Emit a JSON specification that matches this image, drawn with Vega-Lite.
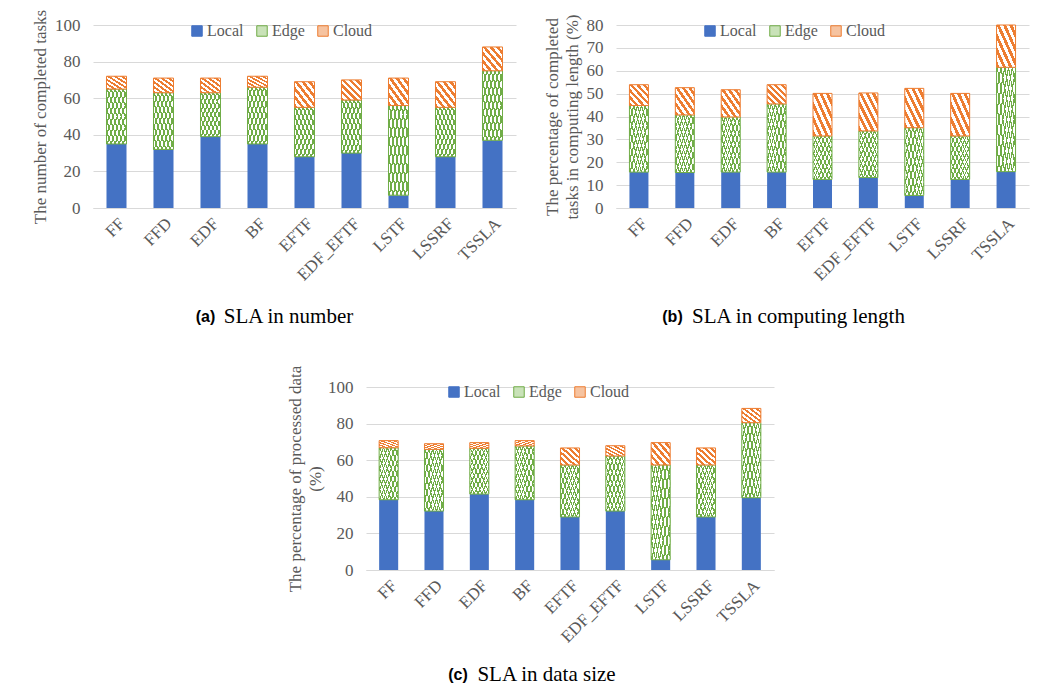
{
  "$schema": "https://vega.github.io/schema/vega-lite/v6.json",
  "background": "white",
  "padding": {"left": 31, "top": 9, "right": 0, "bottom": 0},
  "datasets": {
    "a": [
      {"method": "FF", "series": "Local", "value": 35}, {"method": "FF", "series": "Edge", "value": 30}, {"method": "FF", "series": "Cloud", "value": 7},
      {"method": "FFD", "series": "Local", "value": 32}, {"method": "FFD", "series": "Edge", "value": 31}, {"method": "FFD", "series": "Cloud", "value": 8},
      {"method": "EDF", "series": "Local", "value": 39}, {"method": "EDF", "series": "Edge", "value": 24}, {"method": "EDF", "series": "Cloud", "value": 8},
      {"method": "BF", "series": "Local", "value": 35}, {"method": "BF", "series": "Edge", "value": 31}, {"method": "BF", "series": "Cloud", "value": 6},
      {"method": "EFTF", "series": "Local", "value": 28}, {"method": "EFTF", "series": "Edge", "value": 27}, {"method": "EFTF", "series": "Cloud", "value": 14},
      {"method": "EDF_EFTF", "series": "Local", "value": 30}, {"method": "EDF_EFTF", "series": "Edge", "value": 29}, {"method": "EDF_EFTF", "series": "Cloud", "value": 11},
      {"method": "LSTF", "series": "Local", "value": 7}, {"method": "LSTF", "series": "Edge", "value": 49}, {"method": "LSTF", "series": "Cloud", "value": 15},
      {"method": "LSSRF", "series": "Local", "value": 28}, {"method": "LSSRF", "series": "Edge", "value": 27}, {"method": "LSSRF", "series": "Cloud", "value": 14},
      {"method": "TSSLA", "series": "Local", "value": 37}, {"method": "TSSLA", "series": "Edge", "value": 38}, {"method": "TSSLA", "series": "Cloud", "value": 13}
    ],
    "b": [
      {"method": "FF", "series": "Local", "value": 15.7}, {"method": "FF", "series": "Edge", "value": 29.1}, {"method": "FF", "series": "Cloud", "value": 9.1},
      {"method": "FFD", "series": "Local", "value": 15.5}, {"method": "FFD", "series": "Edge", "value": 25.2}, {"method": "FFD", "series": "Cloud", "value": 11.9},
      {"method": "EDF", "series": "Local", "value": 15.7}, {"method": "EDF", "series": "Edge", "value": 24.1}, {"method": "EDF", "series": "Cloud", "value": 11.9},
      {"method": "BF", "series": "Local", "value": 15.7}, {"method": "BF", "series": "Edge", "value": 29.8}, {"method": "BF", "series": "Cloud", "value": 8.4},
      {"method": "EFTF", "series": "Local", "value": 12.5}, {"method": "EFTF", "series": "Edge", "value": 19.0}, {"method": "EFTF", "series": "Cloud", "value": 18.6},
      {"method": "EDF_EFTF", "series": "Local", "value": 13.3}, {"method": "EDF_EFTF", "series": "Edge", "value": 20.4}, {"method": "EDF_EFTF", "series": "Cloud", "value": 16.6},
      {"method": "LSTF", "series": "Local", "value": 5.5}, {"method": "LSTF", "series": "Edge", "value": 29.6}, {"method": "LSTF", "series": "Cloud", "value": 17.2},
      {"method": "LSSRF", "series": "Local", "value": 12.5}, {"method": "LSSRF", "series": "Edge", "value": 19.0}, {"method": "LSSRF", "series": "Cloud", "value": 18.6},
      {"method": "TSSLA", "series": "Local", "value": 15.9}, {"method": "TSSLA", "series": "Edge", "value": 45.6}, {"method": "TSSLA", "series": "Cloud", "value": 18.5}
    ],
    "c": [
      {"method": "FF", "series": "Local", "value": 38.4}, {"method": "FF", "series": "Edge", "value": 28.4}, {"method": "FF", "series": "Cloud", "value": 3.9},
      {"method": "FFD", "series": "Local", "value": 32.2}, {"method": "FFD", "series": "Edge", "value": 33.7}, {"method": "FFD", "series": "Cloud", "value": 3.1},
      {"method": "EDF", "series": "Local", "value": 41.5}, {"method": "EDF", "series": "Edge", "value": 25.0}, {"method": "EDF", "series": "Cloud", "value": 3.1},
      {"method": "BF", "series": "Local", "value": 38.4}, {"method": "BF", "series": "Edge", "value": 29.4}, {"method": "BF", "series": "Cloud", "value": 2.9},
      {"method": "EFTF", "series": "Local", "value": 29.0}, {"method": "EFTF", "series": "Edge", "value": 28.4}, {"method": "EFTF", "series": "Cloud", "value": 9.3},
      {"method": "EDF_EFTF", "series": "Local", "value": 32.2}, {"method": "EDF_EFTF", "series": "Edge", "value": 30.1}, {"method": "EDF_EFTF", "series": "Cloud", "value": 5.6},
      {"method": "LSTF", "series": "Local", "value": 5.6}, {"method": "LSTF", "series": "Edge", "value": 51.8}, {"method": "LSTF", "series": "Cloud", "value": 12.2},
      {"method": "LSSRF", "series": "Local", "value": 29.0}, {"method": "LSSRF", "series": "Edge", "value": 28.4}, {"method": "LSSRF", "series": "Cloud", "value": 9.3},
      {"method": "TSSLA", "series": "Local", "value": 39.5}, {"method": "TSSLA", "series": "Edge", "value": 41.0}, {"method": "TSSLA", "series": "Cloud", "value": 7.8}
    ]
  },
  "spacing": 39,
  "center": true,
  "resolve": {"scale": {"color": "independent"}, "legend": {"color": "independent"}},
  "vconcat": [
    {
      "spacing": 27,
      "resolve": {"scale": {"color": "independent"}, "legend": {"color": "independent"}},
      "hconcat": [
        {
          "width": 423, "height": 183,
          "data": {"name": "a"},
          "transform": [{"stack": "value", "groupby": ["method"], "sort": [{"field": "series", "order": "descending"}], "as": ["v0", "v1"]}],
          "title": {"text": "(a)", "orient": "bottom", "frame": "group", "anchor": "middle", "dx": -99, "dy": -21, "font": "Liberation Sans", "fontWeight": "bold", "fontSize": 16, "color": "black"},
          "encoding": {
            "x": {"field": "method", "type": "nominal", "sort": ["FF", "FFD", "EDF", "BF", "EFTF", "EDF_EFTF", "LSTF", "LSSRF", "TSSLA"],
                  "scale": {"paddingInner": 0.574, "paddingOuter": 0.287},
                  "axis": {"title": "SLA in number", "titleX": 195, "titleY": 114, "titleBaseline": "alphabetic", "titleFontSize": 21, "titleColor": "black"}},
            "y": {"field": "v1", "type": "quantitative", "scale": {"domain": [0, 100]}, "axis": {"title": "The number of completed tasks", "values": [0, 20, 40, 60, 80, 100]}},
            "y2": {"field": "v0"}
          },
          "layer": [
            {"mark": {"type": "bar", "strokeWidth": 0},
             "encoding": {"color": {"field": "series", "type": "nominal", "scale": {"domain": ["Local", "Edge", "Cloud"], "range": ["#4472c4", "#c9e2b8", "#f6c3a0"]},
               "legend": {"orient": "none", "legendX": 96, "legendY": -2, "direction": "horizontal", "title": null,
                 "encode": {"symbols": {"update": {"stroke": {"signal": "datum.value === 'Local' ? '#4472c4' : datum.value === 'Edge' ? '#70ad47' : '#ed7d31'"}, "strokeWidth": {"value": 1}}}}}}}},
            {"transform": [{"filter": "datum.series === 'Edge'"}],
             "mark": {"type": "bar", "fill": {"gradient": "linear", "x1": 0, "y1": 1, "x2": 1, "y2": 0, "stops": [
               {"offset": 0, "color": "#70ad47"}, {"offset": 0.03, "color": "#70ad47"}, {"offset": 0.03, "color": "#ffffff"}, {"offset": 0.1, "color": "#ffffff"},
               {"offset": 0.1, "color": "#70ad47"}, {"offset": 0.13, "color": "#70ad47"}, {"offset": 0.13, "color": "#ffffff"}, {"offset": 0.2, "color": "#ffffff"},
               {"offset": 0.2, "color": "#70ad47"}, {"offset": 0.23, "color": "#70ad47"}, {"offset": 0.23, "color": "#ffffff"}, {"offset": 0.3, "color": "#ffffff"},
               {"offset": 0.3, "color": "#70ad47"}, {"offset": 0.33, "color": "#70ad47"}, {"offset": 0.33, "color": "#ffffff"}, {"offset": 0.4, "color": "#ffffff"},
               {"offset": 0.4, "color": "#70ad47"}, {"offset": 0.43, "color": "#70ad47"}, {"offset": 0.43, "color": "#ffffff"}, {"offset": 0.5, "color": "#ffffff"},
               {"offset": 0.5, "color": "#70ad47"}, {"offset": 0.53, "color": "#70ad47"}, {"offset": 0.53, "color": "#ffffff"}, {"offset": 0.6, "color": "#ffffff"},
               {"offset": 0.6, "color": "#70ad47"}, {"offset": 0.63, "color": "#70ad47"}, {"offset": 0.63, "color": "#ffffff"}, {"offset": 0.7, "color": "#ffffff"},
               {"offset": 0.7, "color": "#70ad47"}, {"offset": 0.73, "color": "#70ad47"}, {"offset": 0.73, "color": "#ffffff"}, {"offset": 0.8, "color": "#ffffff"},
               {"offset": 0.8, "color": "#70ad47"}, {"offset": 0.83, "color": "#70ad47"}, {"offset": 0.83, "color": "#ffffff"}, {"offset": 0.9, "color": "#ffffff"},
               {"offset": 0.9, "color": "#70ad47"}, {"offset": 0.93, "color": "#70ad47"}, {"offset": 0.93, "color": "#ffffff"}, {"offset": 1, "color": "#ffffff"}]}}},
            {"transform": [{"filter": "datum.series === 'Edge'"}],
             "mark": {"type": "bar", "stroke": "#70ad47", "strokeWidth": 1, "fill": {"gradient": "linear", "x1": 0, "y1": 0, "x2": 1, "y2": 1, "stops": [
               {"offset": 0, "color": "#70ad47"}, {"offset": 0.03, "color": "#70ad47"}, {"offset": 0.03, "color": "rgba(255,255,255,0)"}, {"offset": 0.1, "color": "rgba(255,255,255,0)"},
               {"offset": 0.1, "color": "#70ad47"}, {"offset": 0.13, "color": "#70ad47"}, {"offset": 0.13, "color": "rgba(255,255,255,0)"}, {"offset": 0.2, "color": "rgba(255,255,255,0)"},
               {"offset": 0.2, "color": "#70ad47"}, {"offset": 0.23, "color": "#70ad47"}, {"offset": 0.23, "color": "rgba(255,255,255,0)"}, {"offset": 0.3, "color": "rgba(255,255,255,0)"},
               {"offset": 0.3, "color": "#70ad47"}, {"offset": 0.33, "color": "#70ad47"}, {"offset": 0.33, "color": "rgba(255,255,255,0)"}, {"offset": 0.4, "color": "rgba(255,255,255,0)"},
               {"offset": 0.4, "color": "#70ad47"}, {"offset": 0.43, "color": "#70ad47"}, {"offset": 0.43, "color": "rgba(255,255,255,0)"}, {"offset": 0.5, "color": "rgba(255,255,255,0)"},
               {"offset": 0.5, "color": "#70ad47"}, {"offset": 0.53, "color": "#70ad47"}, {"offset": 0.53, "color": "rgba(255,255,255,0)"}, {"offset": 0.6, "color": "rgba(255,255,255,0)"},
               {"offset": 0.6, "color": "#70ad47"}, {"offset": 0.63, "color": "#70ad47"}, {"offset": 0.63, "color": "rgba(255,255,255,0)"}, {"offset": 0.7, "color": "rgba(255,255,255,0)"},
               {"offset": 0.7, "color": "#70ad47"}, {"offset": 0.73, "color": "#70ad47"}, {"offset": 0.73, "color": "rgba(255,255,255,0)"}, {"offset": 0.8, "color": "rgba(255,255,255,0)"},
               {"offset": 0.8, "color": "#70ad47"}, {"offset": 0.83, "color": "#70ad47"}, {"offset": 0.83, "color": "rgba(255,255,255,0)"}, {"offset": 0.9, "color": "rgba(255,255,255,0)"},
               {"offset": 0.9, "color": "#70ad47"}, {"offset": 0.93, "color": "#70ad47"}, {"offset": 0.93, "color": "rgba(255,255,255,0)"}, {"offset": 1, "color": "rgba(255,255,255,0)"}]}}},
            {"transform": [{"filter": "datum.series === 'Cloud'"}],
             "mark": {"type": "bar", "stroke": "#ed7d31", "strokeWidth": 1, "fill": {"gradient": "linear", "x1": 0, "y1": 1, "x2": 1, "y2": 0, "stops": [
               {"offset": 0, "color": "#ed7d31"}, {"offset": 0.0833, "color": "#ed7d31"}, {"offset": 0.0833, "color": "#ffffff"}, {"offset": 0.1667, "color": "#ffffff"},
               {"offset": 0.1667, "color": "#ed7d31"}, {"offset": 0.25, "color": "#ed7d31"}, {"offset": 0.25, "color": "#ffffff"}, {"offset": 0.3333, "color": "#ffffff"},
               {"offset": 0.3333, "color": "#ed7d31"}, {"offset": 0.4167, "color": "#ed7d31"}, {"offset": 0.4167, "color": "#ffffff"}, {"offset": 0.5, "color": "#ffffff"},
               {"offset": 0.5, "color": "#ed7d31"}, {"offset": 0.5833, "color": "#ed7d31"}, {"offset": 0.5833, "color": "#ffffff"}, {"offset": 0.6667, "color": "#ffffff"},
               {"offset": 0.6667, "color": "#ed7d31"}, {"offset": 0.75, "color": "#ed7d31"}, {"offset": 0.75, "color": "#ffffff"}, {"offset": 0.8333, "color": "#ffffff"},
               {"offset": 0.8333, "color": "#ed7d31"}, {"offset": 0.9167, "color": "#ed7d31"}, {"offset": 0.9167, "color": "#ffffff"}, {"offset": 1, "color": "#ffffff"}]}}}
          ]
        },
        {
          "width": 413, "height": 183,
          "data": {"name": "b"},
          "transform": [{"stack": "value", "groupby": ["method"], "sort": [{"field": "series", "order": "descending"}], "as": ["v0", "v1"]}],
          "title": {"text": "(b)", "orient": "bottom", "frame": "group", "anchor": "middle", "dx": -150, "dy": -21, "font": "Liberation Sans", "fontWeight": "bold", "fontSize": 16, "color": "black"},
          "resolve": {"axis": {"y": "independent"}},
          "encoding": {
            "x": {"field": "method", "type": "nominal", "sort": ["FF", "FFD", "EDF", "BF", "EFTF", "EDF_EFTF", "LSTF", "LSSRF", "TSSLA"],
                  "scale": {"paddingInner": 0.586, "paddingOuter": 0.293},
                  "axis": {"title": "SLA in computing length", "titleX": 182, "titleY": 114, "titleBaseline": "alphabetic", "titleFontSize": 21, "titleColor": "black"}},
            "y": {"field": "v1", "type": "quantitative", "scale": {"domain": [0, 80]}, "axis": {"title": ["The percentage of completed", "tasks in computing length (%)"], "titleLineHeight": 20, "values": [0, 10, 20, 30, 40, 50, 60, 70, 80]}},
            "y2": {"field": "v0"}
          },
          "layer": [
            {"mark": {"type": "bar", "strokeWidth": 0},
             "encoding": {"color": {"field": "series", "type": "nominal", "scale": {"domain": ["Local", "Edge", "Cloud"], "range": ["#4472c4", "#c9e2b8", "#f6c3a0"]},
               "legend": {"orient": "none", "legendX": 86, "legendY": -2, "direction": "horizontal", "title": null,
                 "encode": {"symbols": {"update": {"stroke": {"signal": "datum.value === 'Local' ? '#4472c4' : datum.value === 'Edge' ? '#70ad47' : '#ed7d31'"}, "strokeWidth": {"value": 1}}}}}}}},
            {"transform": [{"filter": "datum.series === 'Edge'"}],
             "encoding": {"y": {"field": "v1", "type": "quantitative", "scale": {"domain": [0, 80]}, "axis": null}},
             "mark": {"type": "bar", "fill": {"gradient": "linear", "x1": 0, "y1": 1, "x2": 1, "y2": 0, "stops": [
               {"offset": 0, "color": "#70ad47"}, {"offset": 0.03, "color": "#70ad47"}, {"offset": 0.03, "color": "#ffffff"}, {"offset": 0.1, "color": "#ffffff"},
               {"offset": 0.1, "color": "#70ad47"}, {"offset": 0.13, "color": "#70ad47"}, {"offset": 0.13, "color": "#ffffff"}, {"offset": 0.2, "color": "#ffffff"},
               {"offset": 0.2, "color": "#70ad47"}, {"offset": 0.23, "color": "#70ad47"}, {"offset": 0.23, "color": "#ffffff"}, {"offset": 0.3, "color": "#ffffff"},
               {"offset": 0.3, "color": "#70ad47"}, {"offset": 0.33, "color": "#70ad47"}, {"offset": 0.33, "color": "#ffffff"}, {"offset": 0.4, "color": "#ffffff"},
               {"offset": 0.4, "color": "#70ad47"}, {"offset": 0.43, "color": "#70ad47"}, {"offset": 0.43, "color": "#ffffff"}, {"offset": 0.5, "color": "#ffffff"},
               {"offset": 0.5, "color": "#70ad47"}, {"offset": 0.53, "color": "#70ad47"}, {"offset": 0.53, "color": "#ffffff"}, {"offset": 0.6, "color": "#ffffff"},
               {"offset": 0.6, "color": "#70ad47"}, {"offset": 0.63, "color": "#70ad47"}, {"offset": 0.63, "color": "#ffffff"}, {"offset": 0.7, "color": "#ffffff"},
               {"offset": 0.7, "color": "#70ad47"}, {"offset": 0.73, "color": "#70ad47"}, {"offset": 0.73, "color": "#ffffff"}, {"offset": 0.8, "color": "#ffffff"},
               {"offset": 0.8, "color": "#70ad47"}, {"offset": 0.83, "color": "#70ad47"}, {"offset": 0.83, "color": "#ffffff"}, {"offset": 0.9, "color": "#ffffff"},
               {"offset": 0.9, "color": "#70ad47"}, {"offset": 0.93, "color": "#70ad47"}, {"offset": 0.93, "color": "#ffffff"}, {"offset": 1, "color": "#ffffff"}]}}},
            {"transform": [{"filter": "datum.series === 'Edge'"}],
             "encoding": {"y": {"field": "v1", "type": "quantitative", "scale": {"domain": [0, 80]}, "axis": null}},
             "mark": {"type": "bar", "stroke": "#70ad47", "strokeWidth": 1, "fill": {"gradient": "linear", "x1": 0, "y1": 0, "x2": 1, "y2": 1, "stops": [
               {"offset": 0, "color": "#70ad47"}, {"offset": 0.03, "color": "#70ad47"}, {"offset": 0.03, "color": "rgba(255,255,255,0)"}, {"offset": 0.1, "color": "rgba(255,255,255,0)"},
               {"offset": 0.1, "color": "#70ad47"}, {"offset": 0.13, "color": "#70ad47"}, {"offset": 0.13, "color": "rgba(255,255,255,0)"}, {"offset": 0.2, "color": "rgba(255,255,255,0)"},
               {"offset": 0.2, "color": "#70ad47"}, {"offset": 0.23, "color": "#70ad47"}, {"offset": 0.23, "color": "rgba(255,255,255,0)"}, {"offset": 0.3, "color": "rgba(255,255,255,0)"},
               {"offset": 0.3, "color": "#70ad47"}, {"offset": 0.33, "color": "#70ad47"}, {"offset": 0.33, "color": "rgba(255,255,255,0)"}, {"offset": 0.4, "color": "rgba(255,255,255,0)"},
               {"offset": 0.4, "color": "#70ad47"}, {"offset": 0.43, "color": "#70ad47"}, {"offset": 0.43, "color": "rgba(255,255,255,0)"}, {"offset": 0.5, "color": "rgba(255,255,255,0)"},
               {"offset": 0.5, "color": "#70ad47"}, {"offset": 0.53, "color": "#70ad47"}, {"offset": 0.53, "color": "rgba(255,255,255,0)"}, {"offset": 0.6, "color": "rgba(255,255,255,0)"},
               {"offset": 0.6, "color": "#70ad47"}, {"offset": 0.63, "color": "#70ad47"}, {"offset": 0.63, "color": "rgba(255,255,255,0)"}, {"offset": 0.7, "color": "rgba(255,255,255,0)"},
               {"offset": 0.7, "color": "#70ad47"}, {"offset": 0.73, "color": "#70ad47"}, {"offset": 0.73, "color": "rgba(255,255,255,0)"}, {"offset": 0.8, "color": "rgba(255,255,255,0)"},
               {"offset": 0.8, "color": "#70ad47"}, {"offset": 0.83, "color": "#70ad47"}, {"offset": 0.83, "color": "rgba(255,255,255,0)"}, {"offset": 0.9, "color": "rgba(255,255,255,0)"},
               {"offset": 0.9, "color": "#70ad47"}, {"offset": 0.93, "color": "#70ad47"}, {"offset": 0.93, "color": "rgba(255,255,255,0)"}, {"offset": 1, "color": "rgba(255,255,255,0)"}]}}},
            {"transform": [{"filter": "datum.series === 'Cloud'"}],
             "encoding": {"y": {"field": "v1", "type": "quantitative", "scale": {"domain": [0, 80]}, "axis": {"orient": "right", "title": null, "labels": false, "ticks": false, "grid": false, "domain": true, "domainColor": "#ffffff", "offset": 18}}},
             "mark": {"type": "bar", "stroke": "#ed7d31", "strokeWidth": 1, "fill": {"gradient": "linear", "x1": 0, "y1": 1, "x2": 1, "y2": 0, "stops": [
               {"offset": 0, "color": "#ed7d31"}, {"offset": 0.0833, "color": "#ed7d31"}, {"offset": 0.0833, "color": "#ffffff"}, {"offset": 0.1667, "color": "#ffffff"},
               {"offset": 0.1667, "color": "#ed7d31"}, {"offset": 0.25, "color": "#ed7d31"}, {"offset": 0.25, "color": "#ffffff"}, {"offset": 0.3333, "color": "#ffffff"},
               {"offset": 0.3333, "color": "#ed7d31"}, {"offset": 0.4167, "color": "#ed7d31"}, {"offset": 0.4167, "color": "#ffffff"}, {"offset": 0.5, "color": "#ffffff"},
               {"offset": 0.5, "color": "#ed7d31"}, {"offset": 0.5833, "color": "#ed7d31"}, {"offset": 0.5833, "color": "#ffffff"}, {"offset": 0.6667, "color": "#ffffff"},
               {"offset": 0.6667, "color": "#ed7d31"}, {"offset": 0.75, "color": "#ed7d31"}, {"offset": 0.75, "color": "#ffffff"}, {"offset": 0.8333, "color": "#ffffff"},
               {"offset": 0.8333, "color": "#ed7d31"}, {"offset": 0.9167, "color": "#ed7d31"}, {"offset": 0.9167, "color": "#ffffff"}, {"offset": 1, "color": "#ffffff"}]}}}
          ]
        }
      ]
    },
    {
      "width": 408, "height": 183,
      "data": {"name": "c"},
      "transform": [{"stack": "value", "groupby": ["method"], "sort": [{"field": "series", "order": "descending"}], "as": ["v0", "v1"]}],
      "title": {"text": "(c)", "orient": "bottom", "frame": "group", "anchor": "middle", "dx": -112, "dy": -21, "font": "Liberation Sans", "fontWeight": "bold", "fontSize": 16, "color": "black"},
      "encoding": {
        "x": {"field": "method", "type": "nominal", "sort": ["FF", "FFD", "EDF", "BF", "EFTF", "EDF_EFTF", "LSTF", "LSSRF", "TSSLA"],
              "scale": {"paddingInner": 0.58, "paddingOuter": 0.29},
              "axis": {"title": "SLA in data size", "titleX": 180, "titleY": 110, "titleBaseline": "alphabetic", "titleFontSize": 21, "titleColor": "black"}},
        "y": {"field": "v1", "type": "quantitative", "scale": {"domain": [0, 100]}, "axis": {"title": ["The percentage of processed data", "(%)"], "titleLineHeight": 20, "titlePadding": 3, "values": [0, 20, 40, 60, 80, 100]}},
        "y2": {"field": "v0"}
      },
      "layer": [
        {"mark": {"type": "bar", "strokeWidth": 0},
         "encoding": {"color": {"field": "series", "type": "nominal", "scale": {"domain": ["Local", "Edge", "Cloud"], "range": ["#4472c4", "#c9e2b8", "#f6c3a0"]},
           "legend": {"orient": "none", "legendX": 80, "legendY": -3, "direction": "horizontal", "title": null,
             "encode": {"symbols": {"update": {"stroke": {"signal": "datum.value === 'Local' ? '#4472c4' : datum.value === 'Edge' ? '#70ad47' : '#ed7d31'"}, "strokeWidth": {"value": 1}}}}}}}},
        {"transform": [{"filter": "datum.series === 'Edge'"}],
         "mark": {"type": "bar", "fill": {"gradient": "linear", "x1": 0, "y1": 1, "x2": 1, "y2": 0, "stops": [
           {"offset": 0, "color": "#70ad47"}, {"offset": 0.03, "color": "#70ad47"}, {"offset": 0.03, "color": "#ffffff"}, {"offset": 0.1, "color": "#ffffff"},
           {"offset": 0.1, "color": "#70ad47"}, {"offset": 0.13, "color": "#70ad47"}, {"offset": 0.13, "color": "#ffffff"}, {"offset": 0.2, "color": "#ffffff"},
           {"offset": 0.2, "color": "#70ad47"}, {"offset": 0.23, "color": "#70ad47"}, {"offset": 0.23, "color": "#ffffff"}, {"offset": 0.3, "color": "#ffffff"},
           {"offset": 0.3, "color": "#70ad47"}, {"offset": 0.33, "color": "#70ad47"}, {"offset": 0.33, "color": "#ffffff"}, {"offset": 0.4, "color": "#ffffff"},
           {"offset": 0.4, "color": "#70ad47"}, {"offset": 0.43, "color": "#70ad47"}, {"offset": 0.43, "color": "#ffffff"}, {"offset": 0.5, "color": "#ffffff"},
           {"offset": 0.5, "color": "#70ad47"}, {"offset": 0.53, "color": "#70ad47"}, {"offset": 0.53, "color": "#ffffff"}, {"offset": 0.6, "color": "#ffffff"},
           {"offset": 0.6, "color": "#70ad47"}, {"offset": 0.63, "color": "#70ad47"}, {"offset": 0.63, "color": "#ffffff"}, {"offset": 0.7, "color": "#ffffff"},
           {"offset": 0.7, "color": "#70ad47"}, {"offset": 0.73, "color": "#70ad47"}, {"offset": 0.73, "color": "#ffffff"}, {"offset": 0.8, "color": "#ffffff"},
           {"offset": 0.8, "color": "#70ad47"}, {"offset": 0.83, "color": "#70ad47"}, {"offset": 0.83, "color": "#ffffff"}, {"offset": 0.9, "color": "#ffffff"},
           {"offset": 0.9, "color": "#70ad47"}, {"offset": 0.93, "color": "#70ad47"}, {"offset": 0.93, "color": "#ffffff"}, {"offset": 1, "color": "#ffffff"}]}}},
        {"transform": [{"filter": "datum.series === 'Edge'"}],
         "mark": {"type": "bar", "stroke": "#70ad47", "strokeWidth": 1, "fill": {"gradient": "linear", "x1": 0, "y1": 0, "x2": 1, "y2": 1, "stops": [
           {"offset": 0, "color": "#70ad47"}, {"offset": 0.03, "color": "#70ad47"}, {"offset": 0.03, "color": "rgba(255,255,255,0)"}, {"offset": 0.1, "color": "rgba(255,255,255,0)"},
           {"offset": 0.1, "color": "#70ad47"}, {"offset": 0.13, "color": "#70ad47"}, {"offset": 0.13, "color": "rgba(255,255,255,0)"}, {"offset": 0.2, "color": "rgba(255,255,255,0)"},
           {"offset": 0.2, "color": "#70ad47"}, {"offset": 0.23, "color": "#70ad47"}, {"offset": 0.23, "color": "rgba(255,255,255,0)"}, {"offset": 0.3, "color": "rgba(255,255,255,0)"},
           {"offset": 0.3, "color": "#70ad47"}, {"offset": 0.33, "color": "#70ad47"}, {"offset": 0.33, "color": "rgba(255,255,255,0)"}, {"offset": 0.4, "color": "rgba(255,255,255,0)"},
           {"offset": 0.4, "color": "#70ad47"}, {"offset": 0.43, "color": "#70ad47"}, {"offset": 0.43, "color": "rgba(255,255,255,0)"}, {"offset": 0.5, "color": "rgba(255,255,255,0)"},
           {"offset": 0.5, "color": "#70ad47"}, {"offset": 0.53, "color": "#70ad47"}, {"offset": 0.53, "color": "rgba(255,255,255,0)"}, {"offset": 0.6, "color": "rgba(255,255,255,0)"},
           {"offset": 0.6, "color": "#70ad47"}, {"offset": 0.63, "color": "#70ad47"}, {"offset": 0.63, "color": "rgba(255,255,255,0)"}, {"offset": 0.7, "color": "rgba(255,255,255,0)"},
           {"offset": 0.7, "color": "#70ad47"}, {"offset": 0.73, "color": "#70ad47"}, {"offset": 0.73, "color": "rgba(255,255,255,0)"}, {"offset": 0.8, "color": "rgba(255,255,255,0)"},
           {"offset": 0.8, "color": "#70ad47"}, {"offset": 0.83, "color": "#70ad47"}, {"offset": 0.83, "color": "rgba(255,255,255,0)"}, {"offset": 0.9, "color": "rgba(255,255,255,0)"},
           {"offset": 0.9, "color": "#70ad47"}, {"offset": 0.93, "color": "#70ad47"}, {"offset": 0.93, "color": "rgba(255,255,255,0)"}, {"offset": 1, "color": "rgba(255,255,255,0)"}]}}},
        {"transform": [{"filter": "datum.series === 'Cloud'"}],
         "mark": {"type": "bar", "stroke": "#ed7d31", "strokeWidth": 1, "fill": {"gradient": "linear", "x1": 0, "y1": 1, "x2": 1, "y2": 0, "stops": [
           {"offset": 0, "color": "#ed7d31"}, {"offset": 0.0833, "color": "#ed7d31"}, {"offset": 0.0833, "color": "#ffffff"}, {"offset": 0.1667, "color": "#ffffff"},
           {"offset": 0.1667, "color": "#ed7d31"}, {"offset": 0.25, "color": "#ed7d31"}, {"offset": 0.25, "color": "#ffffff"}, {"offset": 0.3333, "color": "#ffffff"},
           {"offset": 0.3333, "color": "#ed7d31"}, {"offset": 0.4167, "color": "#ed7d31"}, {"offset": 0.4167, "color": "#ffffff"}, {"offset": 0.5, "color": "#ffffff"},
           {"offset": 0.5, "color": "#ed7d31"}, {"offset": 0.5833, "color": "#ed7d31"}, {"offset": 0.5833, "color": "#ffffff"}, {"offset": 0.6667, "color": "#ffffff"},
           {"offset": 0.6667, "color": "#ed7d31"}, {"offset": 0.75, "color": "#ed7d31"}, {"offset": 0.75, "color": "#ffffff"}, {"offset": 0.8333, "color": "#ffffff"},
           {"offset": 0.8333, "color": "#ed7d31"}, {"offset": 0.9167, "color": "#ed7d31"}, {"offset": 0.9167, "color": "#ffffff"}, {"offset": 1, "color": "#ffffff"}]}}}
      ]
    }
  ],
  "config": {
    "view": {"stroke": null},
    "font": "Liberation Serif",
    "axis": {"labelFont": "Liberation Serif", "labelFontSize": 17, "labelColor": "#595959", "titleFont": "Liberation Serif", "titleFontSize": 17, "titleColor": "#595959", "titleFontWeight": "normal", "ticks": false, "gridColor": "#d9d9d9", "domainColor": "#d9d9d9"},
    "axisY": {"domain": false, "grid": true, "labelPadding": 13, "titlePadding": 5},
    "axisX": {"grid": false, "labelAngle": -45, "labelPadding": 7},
    "legend": {"labelFont": "Liberation Serif", "labelFontSize": 16, "labelColor": "#595959", "symbolType": "square", "symbolSize": 110, "columnPadding": 10, "labelOffset": 2}
  }
}
